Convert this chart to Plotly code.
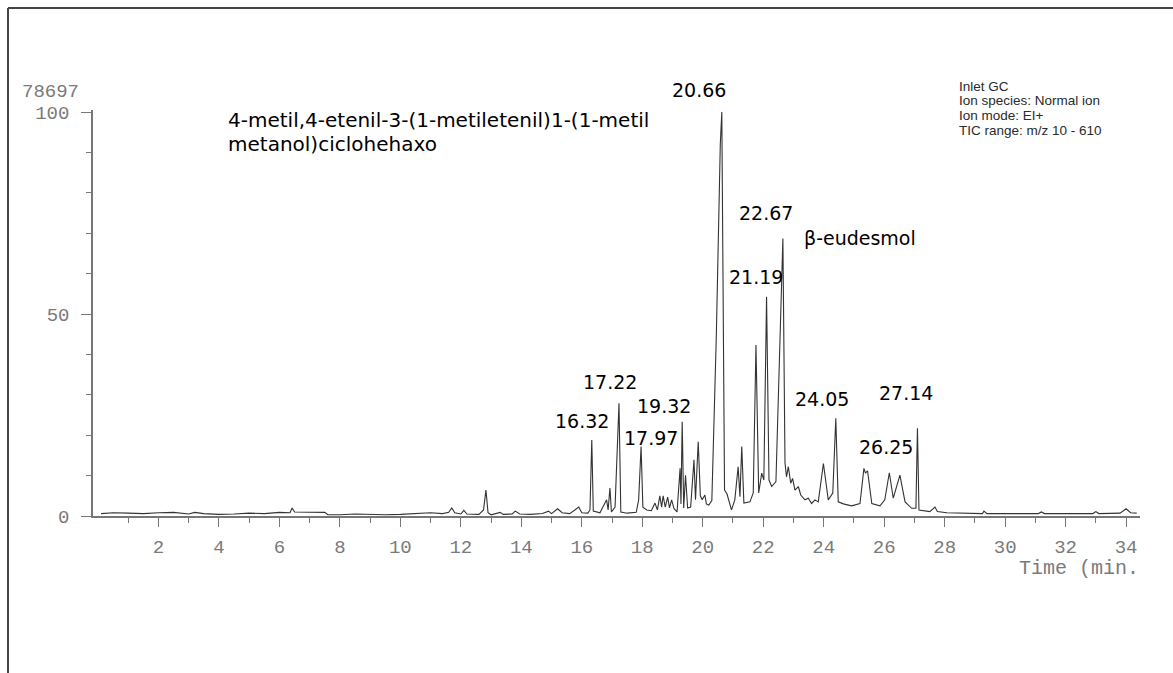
import plotly.graph_objects as go

# ---------------- data ----------------
time_min = [
    0.10, 0.50, 1.00, 1.50, 2.00, 2.50, 3.00, 3.20, 3.50, 4.00, 4.50, 5.00, 5.50, 6.00,
    6.35, 6.42, 6.50, 7.00, 7.50, 7.60, 8.00, 8.50, 9.00, 9.50, 10.00, 10.50, 11.00,
    11.40, 11.60, 11.70, 11.80, 12.00, 12.10, 12.20, 12.60, 12.75, 12.83, 12.90, 13.00,
    13.30, 13.40, 13.70, 13.80, 13.95, 14.30, 14.70, 14.90, 15.00, 15.20, 15.35, 15.60,
    15.90, 16.00, 16.20, 16.27, 16.33, 16.38, 16.60, 16.82, 16.87, 16.93, 16.98, 17.10,
    17.23, 17.29, 17.50, 17.80, 17.88, 17.96, 18.02, 18.15, 18.30, 18.42, 18.50, 18.58,
    18.64, 18.69, 18.76, 18.84, 18.90, 18.97, 19.05, 19.15, 19.25, 19.28, 19.32, 19.37,
    19.43, 19.50, 19.60, 19.71, 19.76, 19.85, 19.92, 19.98, 20.07, 20.12, 20.20, 20.30,
    20.45, 20.58, 20.63, 20.68, 20.72, 20.80, 20.95, 21.06, 21.17, 21.23, 21.29, 21.36,
    21.56, 21.67, 21.76, 21.85, 21.95, 22.02, 22.11, 22.19, 22.28, 22.42, 22.65, 22.72,
    22.77, 22.83, 22.91, 22.97, 23.05, 23.16, 23.24, 23.38, 23.49, 23.60, 23.71, 23.82,
    23.99, 24.15, 24.30, 24.40, 24.48, 24.65, 24.92, 25.20, 25.33, 25.38, 25.45, 25.59,
    25.86, 26.02, 26.17, 26.30, 26.52, 26.69, 26.91, 27.05, 27.10, 27.15, 27.51, 27.68,
    27.76, 28.07, 28.50, 29.00, 29.25, 29.30, 29.40, 30.00, 30.50, 31.10, 31.20, 31.30,
    32.00, 32.90, 33.00, 33.10, 33.80, 34.00, 34.15, 34.35,
]
intensity_pct = [
    0.6, 0.8, 0.7, 0.6, 0.8, 0.9, 0.5, 0.9, 0.6, 0.4, 0.5, 0.7, 0.6, 0.9,
    0.8, 2.0, 1.0, 0.9, 0.9, 0.3, 0.3, 0.5, 0.4, 0.3, 0.4, 0.6, 0.8,
    0.6, 0.9, 2.0, 0.8, 0.5, 1.4, 0.5, 0.4, 1.5, 6.4, 0.8, 0.3,
    0.9, 0.4, 0.5, 1.2, 0.5, 0.4, 0.6, 1.2, 0.6, 1.8, 0.8, 0.6,
    2.2, 0.8, 0.7, 1.5, 18.8, 1.2, 0.8, 4.0, 1.5, 6.9, 1.0, 2.2,
    27.9, 1.0, 0.7, 0.9, 4.0, 17.2, 2.2, 1.5, 1.3, 3.2, 1.5, 5.0,
    2.2, 5.0, 2.2, 4.7, 2.0, 4.0, 1.8, 1.0, 11.8, 3.0, 23.3, 2.0,
    10.1, 2.0, 2.2, 13.9, 4.0, 18.4, 5.0, 4.0, 5.2, 3.0, 2.7, 3.8,
    45.0, 92.0, 100.0, 50.0, 6.4, 5.5, 1.5, 4.0, 12.2, 4.8, 17.2, 3.2,
    3.5, 5.7, 42.3, 5.7, 10.6, 8.9, 54.3, 8.9, 7.3, 8.5, 68.7, 13.1,
    9.7, 12.2, 8.1, 9.3, 6.4, 7.3, 5.2, 4.0, 4.4, 3.1, 4.0, 3.5,
    13.0, 4.0, 5.7, 24.2, 3.5, 3.0, 2.5, 3.1, 11.8, 10.6, 11.2, 3.1,
    2.5, 4.0, 10.7, 4.4, 10.1, 3.5, 1.9, 1.9, 21.7, 1.5, 1.1, 2.2,
    1.1, 0.8, 0.7, 0.6, 0.6, 1.2, 0.6, 0.6, 0.6, 0.6, 1.0, 0.6,
    0.6, 0.6, 1.1, 0.6, 0.7, 1.8, 0.8, 0.7,
]

peak_labels = ["20.66", "22.67", "21.19", "17.22", "19.32", "16.32", "17.97",
               "24.05", "27.14", "26.25"]
compound_lines = ["4-metil,4-etenil-3-(1-metiletenil)1-(1-metil", "metanol)ciclohehaxo"]
compound_2 = "β-eudesmol"
info_lines = ["Inlet GC", "Ion species: Normal ion", "Ion mode: EI+", "TIC range: m/z 10 - 610"]
y_tick_vals = [0, 50, 100]
x_tick_vals = list(range(2, 35, 2))
max_counts = "78697"
x_title = "Time (min."

# ---------------- layout geometry (pixels) ----------------
W, H = 1173, 673
L, R, T, B = 93, 33, 110, 157
PW, PH = W - L - R, H - T - B


def px(xp):
    return (xp - L) / PW


def py(yp):
    return (H - B - yp) / PH


fig = go.Figure()
fig.add_trace(go.Scatter(
    x=time_min, y=intensity_pct, mode="lines",
    line=dict(color="#333333", width=1.1), showlegend=False, hoverinfo="x+y",
))

MONO = "Liberation Mono, DejaVu Sans Mono, monospace"
mono = dict(family=MONO, size=19, color="#7a7a7a")
label_font = dict(family="DejaVu Sans, Verdana, sans-serif", size=19, color="#000000")

# peak label positions (pixel centres)
label_pos = [(699, 90), (766, 213), (756, 277), (610, 382), (664, 406), (582, 421),
             (651, 438), (822, 399), (906, 393), (886, 447)]

annotations = []
for txt, (xp, yp) in zip(peak_labels, label_pos):
    annotations.append(dict(text=txt, x=px(xp), y=py(yp), xref="paper", yref="paper",
                            xanchor="center", yanchor="middle", showarrow=False, font=label_font))

for line_txt, yp in zip(compound_lines, [120, 144]):
    annotations.append(dict(text=line_txt, x=px(226), y=py(yp), xref="paper",
                            yref="paper", xanchor="left", yanchor="middle",
                            showarrow=False, font=dict(label_font, size=20)))
annotations.append(dict(text=compound_2, x=px(802), y=py(238), xref="paper", yref="paper",
                        xanchor="left", yanchor="middle", showarrow=False, font=label_font))
for line_txt, yp in zip(info_lines, [86, 101, 115, 130]):
    annotations.append(dict(text=line_txt, x=px(957), y=py(yp), xref="paper",
                            yref="paper", xanchor="left", yanchor="middle", showarrow=False,
                            font=dict(family="Liberation Sans, Arial, sans-serif", size=13.5,
                                      color="#2a2a2a")))
annotations.append(dict(text=max_counts, x=px(81), y=py(92), xref="paper", yref="paper",
                        xanchor="right", yanchor="middle", showarrow=False, font=mono))
annotations.append(dict(text=x_title, x=px(1141), y=py(568), xref="paper", yref="paper",
                        xanchor="right", yanchor="middle", showarrow=False,
                        font=dict(family=MONO, size=20, color="#7a7a7a")))

shapes = [
    dict(type="line", xref="paper", yref="paper", x0=px(8), x1=px(1173), y0=py(8), y1=py(8),
         line=dict(color="#444", width=2)),
    dict(type="line", xref="paper", yref="paper", x0=px(8), x1=px(8), y0=py(8), y1=py(673),
         line=dict(color="#444", width=2)),
]

fig.update_layout(
    width=W, height=H,
    margin=dict(l=L, r=R, t=T, b=B, pad=0),
    paper_bgcolor="white", plot_bgcolor="white",
    annotations=annotations, shapes=shapes,
    xaxis=dict(range=[-0.165, 34.46], tickvals=x_tick_vals, ticks="outside", ticklen=9,
               tickwidth=1, tickcolor="#777", showline=True, linecolor="#777", linewidth=1.5,
               showgrid=False, zeroline=False, tickfont=mono, ticklabelstandoff=3,
               minor=dict(tickvals=list(range(1, 35, 2)), ticks="outside", ticklen=5,
                          tickcolor="#777", showgrid=False)),
    yaxis=dict(range=[0, 100.5], tickvals=y_tick_vals, ticks="outside", ticklen=10,
               tickwidth=1, tickcolor="#777", showline=True, linecolor="#777", linewidth=1.5,
               showgrid=False, zeroline=False, tickfont=mono, ticklabelstandoff=8,
               minor=dict(tickvals=[10, 20, 30, 40, 60, 70, 80, 90], ticks="outside", ticklen=5,
                          tickcolor="#777", showgrid=False)),
)

fig.write_html("out.html")
